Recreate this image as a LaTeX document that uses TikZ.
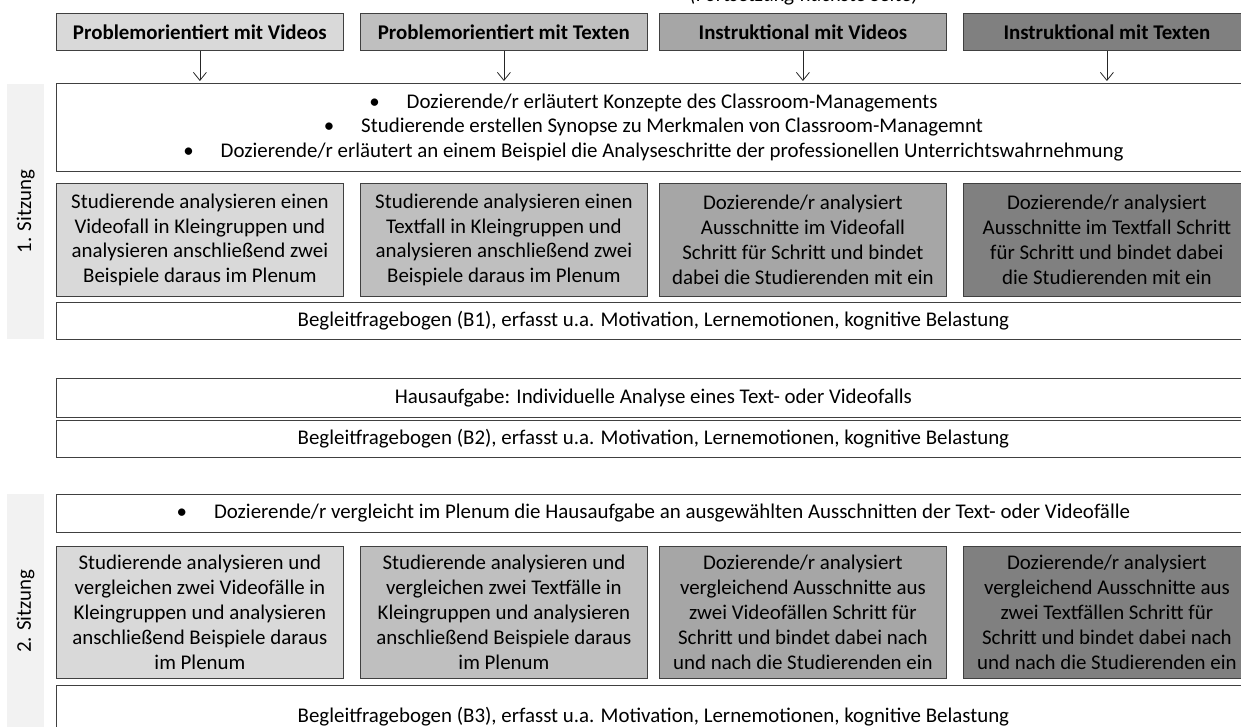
\documentclass[tikz,border=0pt]{standalone}
\usepackage{fontspec}
\setmainfont{Carlito}
\usetikzlibrary{arrows.meta, positioning}
\definecolor{grauA}{HTML}{D9D9D9}
\definecolor{grauB}{HTML}{BFBFBF}
\definecolor{grauC}{HTML}{A6A6A6}
\definecolor{grauD}{HTML}{808080}
\definecolor{leiste}{HTML}{F2F2F2}
\definecolor{rand}{HTML}{404040}
\newcommand{\grundschrift}{\fontsize{20.9}{24.8}\selectfont}
\newcommand{\pkt}{\textbullet\hspace{27pt}}

\begin{document}
\begin{tikzpicture}[
    x=1pt, y=-1pt,
    kasten/.style={draw=rand, line width=0.8pt, fill=#1, align=center, anchor=north west, inner sep=2pt, minimum width=287pt, font=\grundschrift},
    kopf/.style={kasten=#1, minimum height=37pt, font=\grundschrift\bfseries},
    fall/.style 2 args={kasten=#1, minimum height=#2},
    zeile/.style={kasten=white, minimum width=1194pt, minimum height=#1},
    sitzung/.style={fill=leiste, anchor=north west, minimum width=37pt, minimum height=#1, inner sep=0pt, font=\grundschrift},
    pfeil/.style={-{Straight Barb[length=8pt,width=13pt]}, line width=0.8pt, draw=black!85, shorten >=2pt}
]
    \useasboundingbox (0,0) rectangle (1241,727);
    \clip (0,0) rectangle (1241,727);

    % Hinweis oben
    \node[anchor=base, font=\grundschrift\itshape, inner sep=0pt] (hinweis) at (804,2) {(Fortsetzung nächste Seite)};

    % Bedingungen
    \node[kopf=grauA] (k1) at (56,13) {Problemorientiert mit Videos};
    \node[kopf=grauB] (k2) at (360,13) {Problemorientiert mit Texten};
    \node[kopf=grauC] (k3) at (659,13) {Instruktional mit Videos};
    \node[kopf=grauD] (k4) at (963,13) {Instruktional mit Texten};

    % 1. Sitzung
    \node[sitzung=255pt] (s1) at (7,84) {};
    \node[rotate=90, font=\grundschrift] (s1text) at (s1.center) {1. Sitzung};
    \node[zeile=88pt] (einf) at (56,83) {\pkt Dozierende/r erläutert Konzepte des Classroom-Managements\\
        \pkt Studierende erstellen Synopse zu Merkmalen von Classroom-Managemnt\\
        \pkt Dozierende/r erläutert an einem Beispiel die Analyseschritte der professionellen Unterrichtswahrnehmung};
    \node[fall={grauA}{113pt}] (a1) at (56,183) {Studierende analysieren einen\\Videofall in Kleingruppen und\\analysieren anschließend zwei\\Beispiele daraus im Plenum};
    \node[fall={grauB}{113pt}] (a2) at (360,183) {Studierende analysieren einen\\Textfall in Kleingruppen und\\analysieren anschließend zwei\\Beispiele daraus im Plenum};
    \node[fall={grauC}{113pt}] (a3) at (659,183) {Dozierende/r analysiert\\Ausschnitte im Videofall\\Schritt für Schritt und bindet\\dabei die Studierenden mit ein};
    \node[fall={grauD}{113pt}] (a4) at (963,183) {Dozierende/r analysiert\\Ausschnitte im Textfall Schritt\\für Schritt und bindet dabei\\die Studierenden mit ein};
    \node[zeile=37pt] (b1) at (56,302) {Begleitfragebogen (B1), erfasst u.a. Motivation, Lernemotionen, kognitive Belastung};

    % Hausaufgabe
    \node[zeile=39pt] (haus) at (56,378) {Hausaufgabe: Individuelle Analyse eines Text- oder Videofalls};
    \node[zeile=37pt] (b2) at (56,420) {Begleitfragebogen (B2), erfasst u.a. Motivation, Lernemotionen, kognitive Belastung};

    % 2. Sitzung
    \node[sitzung=240pt] (s2) at (7,494) {};
    \node[rotate=90, font=\grundschrift] (s2text) at (25.5,611) {2. Sitzung};
    \node[zeile=38pt] (vergl) at (56,494) {\pkt Dozierende/r vergleicht im Plenum die Hausaufgabe an ausgewählten Ausschnitten der Text- oder Videofälle};
    \node[fall={grauA}{132pt}] (c1) at (56,546) {Studierende analysieren und\\vergleichen zwei Videofälle in\\Kleingruppen und analysieren\\anschließend Beispiele daraus\\im Plenum};
    \node[fall={grauB}{132pt}] (c2) at (360,546) {Studierende analysieren und\\vergleichen zwei Textfälle in\\Kleingruppen und analysieren\\anschließend Beispiele daraus\\im Plenum};
    \node[fall={grauC}{132pt}] (c3) at (659,546) {Dozierende/r analysiert\\vergleichend Ausschnitte aus\\zwei Videofällen Schritt für\\Schritt und bindet dabei nach\\und nach die Studierenden ein};
    \node[fall={grauD}{132pt}] (c4) at (963,546) {Dozierende/r analysiert\\vergleichend Ausschnitte aus\\zwei Textfällen Schritt für\\Schritt und bindet dabei nach\\und nach die Studierenden ein};
    \node[zeile=63pt] (b3) at (56,685) {Begleitfragebogen (B3), erfasst u.a. Motivation, Lernemotionen, kognitive Belastung};

    % Pfeile
    \foreach \k in {k1,k2,k3,k4}
        \draw[pfeil] (\k.south) -- (\k.south |- einf.north);
\end{tikzpicture}
\end{document}
